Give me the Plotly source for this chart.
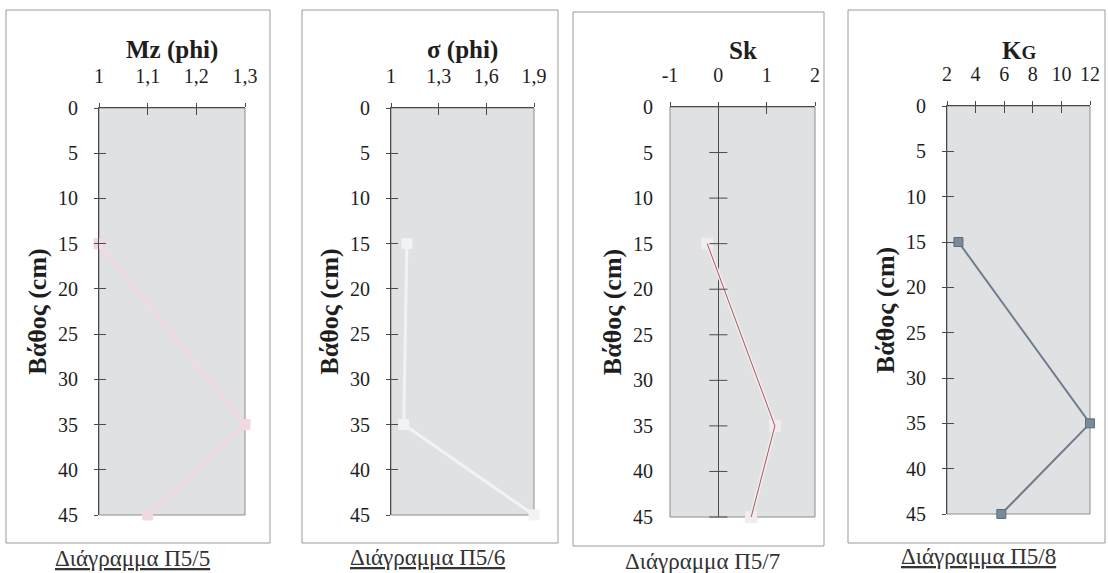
import plotly.graph_objects as go

# ---------------- data ----------------
depth = [15, 35, 45]
mz = [1.00, 1.30, 1.10]
sigma = [1.10, 1.08, 1.90]
sk = [-0.23, 1.17, 0.68]
kg = [2.8, 12.0, 5.8]

depth_ticks = [0, 5, 10, 15, 20, 25, 30, 35, 40, 45]

mz_ticks = [1.0, 1.1, 1.2, 1.3]
mz_labels = ["1", "1,1", "1,2", "1,3"]
sigma_ticks = [1.0, 1.3, 1.6, 1.9]
sigma_labels = ["1", "1,3", "1,6", "1,9"]
sk_ticks = [-1, 0, 1, 2]
sk_labels = ["-1", "0", "1", "2"]
kg_ticks = [2, 4, 6, 8, 10, 12]
kg_labels = ["2", "4", "6", "8", "10", "12"]

titles = ["<b>Mz (phi)</b>", "<b>σ (phi)</b>", "<b>Sk</b>",
          "<b>K<span style='font-size:19px'>G</span></b>"]
captions = ["<u>Διάγραμμα Π5/5</u>", "<u>Διάγραμμα Π5/6</u>",
            "Διάγραμμα Π5/7", "<u>Διάγραμμα Π5/8</u>"]
y_title = "<b>Βάθος (cm)</b>"

# ---------------- layout geometry (pixels) ----------------
W, H = 1108, 573
FONT = "Liberation Serif, Times New Roman, DejaVu Serif, serif"
DARK = "#4a4a4a"
BORDER = "#8c8c8c"
BG = "#dfe1e3"
TXT = "#1e1e1e"

panels = [
    dict(plot=(99, 245, 108, 515), box=(6, 270, 10, 543), cap=(132, 558),
         xr=[1.0, 1.3], tv=mz_ticks, tt=mz_labels, vals=mz,
         lc="#f1d9e4", mc="#f1d9e4", sym="square", lw=3.5, ms=10),
    dict(plot=(391, 534, 108, 515), box=(302, 558, 10, 543), cap=(427, 557),
         xr=[1.0, 1.9], tv=sigma_ticks, tt=sigma_labels, vals=sigma,
         lc="#f2f3f4", mc="#f2f3f4", sym="square", lw=3, ms=10),
    dict(plot=(670, 815, 107, 517), box=(573, 824, 12, 546), cap=(702, 561),
         xr=[-1, 2], tv=sk_ticks, tt=sk_labels, vals=sk,
         lc="#f3ecee", mc="#f3ecee", sym="square", lw=4, ms=11),
    dict(plot=(947, 1090, 106, 514), box=(848, 1105, 10, 543), cap=(978, 556),
         xr=[2, 12], tv=kg_ticks, tt=kg_labels, vals=kg,
         lc="#6d7d8e", mc="#7b8a99", sym="square", lw=2, ms=9),
]


def px_x(v):
    return v / W


def px_y(v):
    return 1 - v / H


fig = go.Figure()
layout = dict(
    width=W, height=H, margin=dict(l=0, r=0, t=0, b=0, autoexpand=False),
    paper_bgcolor="white", plot_bgcolor=BG, showlegend=False,
    font=dict(family=FONT, color=TXT, size=19),
    shapes=[], annotations=[],
)

n = len(panels)
for i, p in enumerate(panels, start=1):
    x0, x1, y0, y1 = p["plot"]
    xs = "" if i == 1 else str(i)
    ov = str(i + n)
    xname, yname = "x" + xs, "y" + xs
    is_sk = (i == 3)

    # main data trace
    fig.add_trace(go.Scatter(
        x=p["vals"], y=depth, xaxis=xname, yaxis=yname, mode="lines+markers",
        line=dict(color=p["lc"], width=p["lw"]),
        marker=dict(symbol=p["sym"], size=p["ms"], color=p["mc"],
                    line=dict(color="#5c6c7c" if i == 4 else p["mc"], width=1)),
        cliponaxis=False, hoverinfo="x+y"))
    if is_sk:
        fig.add_trace(go.Scatter(
            x=sk, y=depth, xaxis=xname, yaxis=yname, mode="lines",
            line=dict(color="#a05a5e", width=1), cliponaxis=False))
        # crossing ticks on the zero line
        fig.add_trace(go.Scatter(
            x=[0] * (len(depth_ticks) - 1), y=depth_ticks[1:], xaxis=xname,
            yaxis=yname, mode="markers", cliponaxis=False, hoverinfo="skip",
            marker=dict(symbol="line-ew", size=13,
                        line=dict(color=DARK, width=1))))
    # empty trace on overlay axes (inner halves of the crossing ticks)
    fig.add_trace(go.Scatter(x=[], y=[], xaxis="x" + ov, yaxis="y" + ov))

    common = dict(showgrid=False, tickcolor=DARK, linecolor=DARK, linewidth=1,
                  automargin=False,
                  tickfont=dict(family=FONT, size=20, color=TXT))
    layout["xaxis" + xs] = dict(
        domain=[px_x(x0), px_x(x1)], range=p["xr"], anchor=yname, side="top",
        tickmode="array", tickvals=p["tv"], ticktext=p["tt"], ticks="outside",
        ticklen=4, showline=True, zeroline=is_sk, zerolinecolor=DARK,
        zerolinewidth=1, ticklabelstandoff=12, **common)
    layout["yaxis" + xs] = dict(
        domain=[px_y(y1), px_y(y0)], range=[45, 0], anchor=xname,
        tickmode="array", tickvals=depth_ticks, ticks="" if is_sk else "outside",
        ticklen=4, showline=not is_sk, zeroline=False,
        ticklabelstandoff=12 if not is_sk else 16,
        title=dict(text=y_title, standoff=3,
                   font=dict(family=FONT, size=26, color=TXT)),
        **common)
    layout["xaxis" + ov] = dict(
        overlaying=xname, range=p["xr"], anchor="y" + ov, side="top",
        tickmode="array", tickvals=p["tv"], ticks="inside", ticklen=7,
        showticklabels=False, showline=False, showgrid=False, zeroline=False,
        tickcolor=DARK, automargin=False)
    layout["yaxis" + ov] = dict(
        overlaying=yname, range=[45, 0], anchor="x" + ov,
        tickmode="array", tickvals=depth_ticks,
        ticks="" if is_sk else "inside", ticklen=7,
        showticklabels=False, showline=False, showgrid=False, zeroline=False,
        tickcolor=DARK, automargin=False)

    # plot-area border (gray) and outer panel box
    layout["shapes"].append(dict(
        type="rect", xref=xname + " domain", yref=yname + " domain",
        x0=0, x1=1, y0=0, y1=1, layer="below",
        line=dict(color=BORDER, width=1)))
    bx0, bx1, by0, by1 = p["box"]
    layout["shapes"].append(dict(
        type="rect", xref="paper", yref="paper",
        x0=px_x(bx0), x1=px_x(bx1), y0=px_y(by1), y1=px_y(by0),
        line=dict(color="#9a9a9a", width=1)))
    # panel title above the top axis
    layout["annotations"].append(dict(
        text=titles[i - 1], xref=xname + " domain", yref="paper", x=0.5,
        y=px_y(50), showarrow=False, xanchor="center", yanchor="middle",
        font=dict(family=FONT, size=25, color=TXT)))
    cx, cy = p["cap"]
    layout["annotations"].append(dict(
        text=captions[i - 1], xref="paper", yref="paper", x=px_x(cx),
        y=px_y(cy), showarrow=False, xanchor="center", yanchor="middle",
        font=dict(family=FONT, size=23, color="#333")))

fig.update_layout(**layout)
fig.write_html("out.html", post_script="document.body.style.margin='0';",
               config={"displayModeBar": False})
